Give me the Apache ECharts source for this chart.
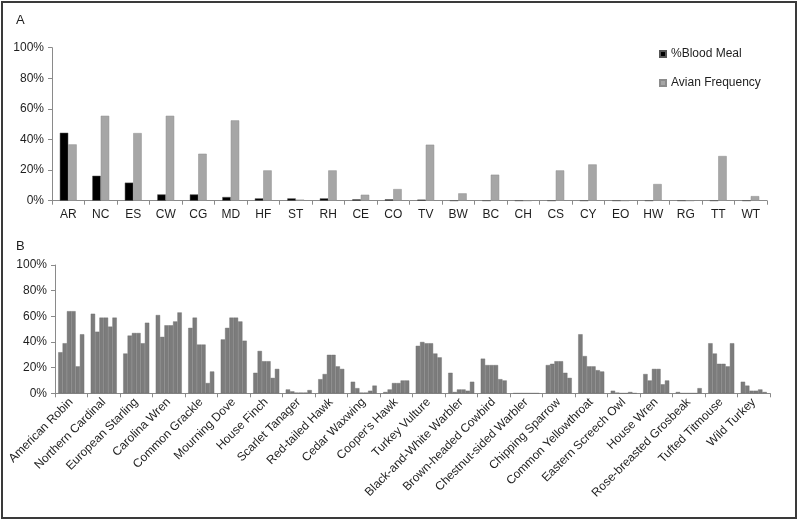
<!DOCTYPE html>
<html><head><meta charset="utf-8">
<script src="https://cdn.jsdelivr.net/npm/echarts@6/dist/echarts.min.js"></script>
<style>html,body{margin:0;padding:0;background:#fff}#c{width:800px;height:522px}</style>
</head><body><div id="c"></div>
<script>
const codes = ['AR','NC','ES','CW','CG','MD','HF','ST','RH','CE','CO','TV','BW','BC','CH','CS','CY','EO','HW','RG','TT','WT'];
const names = ['American Robin','Northern Cardinal','European Starling','Carolina Wren','Common Grackle','Mourning Dove','House Finch','Scarlet Tanager','Red-tailed Hawk','Cedar Waxwing',"Cooper's Hawk",'Turkey Vulture','Black-and-White Warbler','Brown-headed Cowbird','Chestnut-sided Warbler','Chipping Sparrow','Common Yellowthroat','Eastern Screech Owl','House Wren','Rose-breasted Grosbeak','Tufted Titmouse','Wild Turkey'];
const bloodMeal = [44.4,16.3,11.8,4.1,4.1,2.4,1.5,1.5,1.5,0.9,0.9,0.7,0,0,0,0,0,0,0,0,0,0];
const avianFreq = [36.8,55.5,44.2,55.5,30.7,52.5,19.8,0.7,19.8,3.9,7.6,36.6,4.8,17,0,19.8,23.7,0,10.9,0,29.2,3];
const site1 = [32,62,31,61,51,42,16,3,11,9,1,37,16,27,0,22,46,2,15,1,39,9];
const site2 = [39,48,45,44,59,51,33,1.5,15,4,3,40,1,22,0,23,29,0.5,10,0,31,6];
const site3 = [64,59,47,53,38,59,25,0.5,30,0.5,8,39,3,22,0,25,21,0,19,0,23,2];
const site4 = [64,59,47,53,38,59,25,0.5,30,0.5,8,39,3,22,0,25,21,0,19,0,23,2];
const site5 = [21,52,39,56,8,56,12,0.5,21,2,10,31,2,11,0,16,18,1,7,0,21,3];
const site6 = [46,59,55,63,17,41,19,2.5,19,6,10,28,9,10,0,12,17,0,10,4,39,1];
const yTicks = [0,20,40,60,80,100];

const font = 'Liberation Sans, Arial, sans-serif';
const axisCol = '#8a8a8a';
const txtCol = '#1e1e1e';
function yAx(gi){
  return {type:'value',gridIndex:gi,min:yTicks[0],max:yTicks[yTicks.length-1],interval:yTicks[1]-yTicks[0],
    axisLine:{show:true,lineStyle:{color:axisCol,width:1}},
    axisTick:{show:true,length:4,lineStyle:{color:axisCol}},
    splitLine:{show:false},
    axisLabel:{formatter:v=>v+'%',color:txtCol,fontFamily:font,fontSize:12,margin:8}};
}
const chart = echarts.init(document.getElementById('c'),null,{renderer:'canvas'});
const bSeries = [site1,site2,site3,site4,site5,site6].map((d,i)=>({
  type:'bar',xAxisIndex:1,yAxisIndex:1,data:d,barGap:'0%',barCategoryGap:'20%',
  itemStyle:{color:'#7c7c7c',borderColor:'#6a6a6a',borderWidth:0.4},silent:true,animation:false
}));
chart.setOption({
  animation:false,
  backgroundColor:'#fff',
  textStyle:{fontFamily:font},
  grid:[{left:52,right:33,top:47.7,height:153,containLabel:false},
        {left:55,right:30,top:265,height:128.3,containLabel:false}],
  xAxis:[
    {type:'category',gridIndex:0,data:codes,
     axisLine:{lineStyle:{color:axisCol}},axisTick:{show:true,length:4,interval:0,lineStyle:{color:axisCol}},
     axisLabel:{color:txtCol,fontFamily:font,fontSize:12,interval:0,margin:8}},
    {type:'category',gridIndex:1,data:names,
     axisLine:{lineStyle:{color:axisCol}},axisTick:{show:true,length:4,interval:0,lineStyle:{color:axisCol}},
     axisLabel:{color:txtCol,fontFamily:font,fontSize:12,interval:0,rotate:45,margin:7}}
  ],
  yAxis:[yAx(0),yAx(1)],
  legend:{orient:'vertical',left:654,top:43,itemWidth:6,itemHeight:6,itemGap:17,icon:'rect',
    textStyle:{color:txtCol,fontFamily:font,fontSize:12},
    data:['%Blood Meal','Avian Frequency']},
  series:[
    {name:'%Blood Meal',type:'bar',xAxisIndex:0,yAxisIndex:0,data:bloodMeal,barGap:'0%',barCategoryGap:'48%',
     itemStyle:{color:'#000',borderColor:'#555',borderWidth:0.5}},
    {name:'Avian Frequency',type:'bar',xAxisIndex:0,yAxisIndex:0,data:avianFreq,barGap:'0%',barCategoryGap:'48%',
     itemStyle:{color:'#a6a6a6',borderColor:'#8c8c8c',borderWidth:0.5}},
    ...bSeries
  ],
  graphic:[
    {type:'rect',shape:{x:2,y:2,width:794,height:516},style:{fill:null,stroke:'#3a3a3a',lineWidth:2},silent:true},
    {type:'text',left:16,top:14,style:{text:'A',fill:txtCol,font:'13px '+font}},
    {type:'text',left:16,top:240,style:{text:'B',fill:txtCol,font:'13px '+font}}
  ]
});
</script></body></html>
